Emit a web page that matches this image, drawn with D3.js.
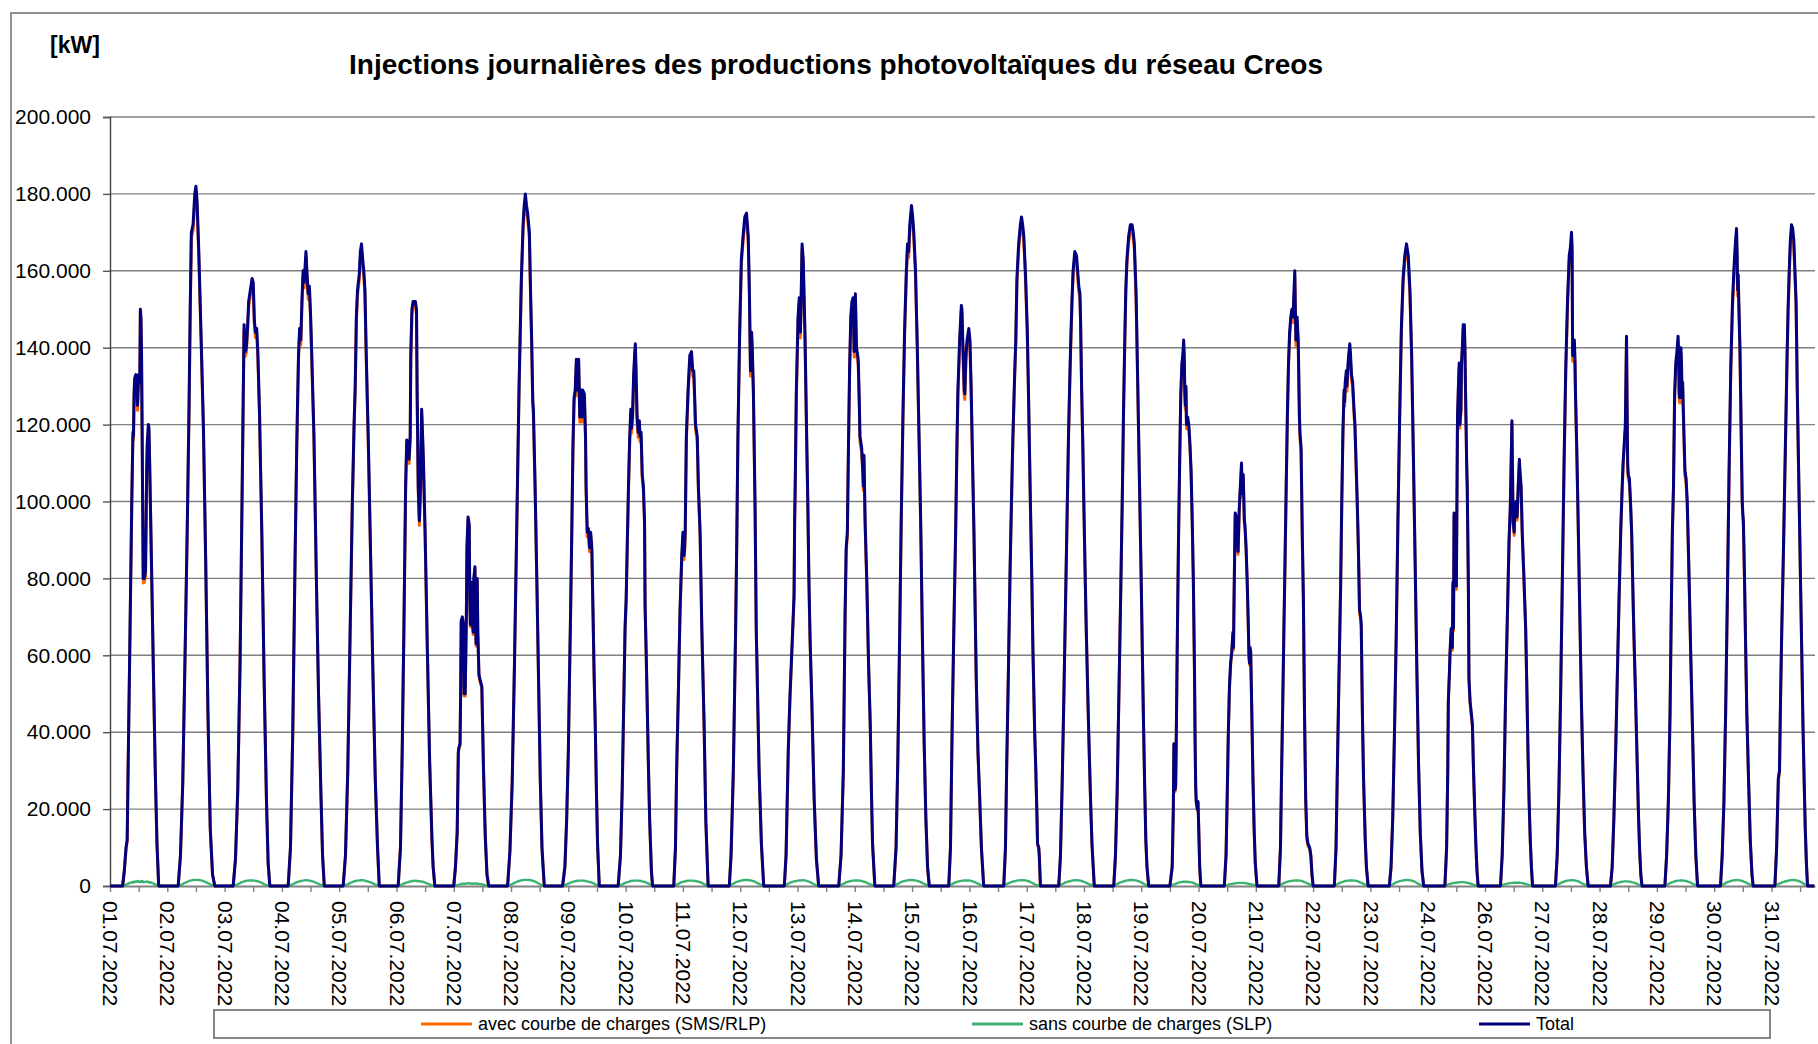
<!DOCTYPE html>
<html>
<head>
  <meta charset="utf-8">
  <title>Injections journalières PV Creos</title>
  <script src="https://cdn.jsdelivr.net/npm/d3@7/dist/d3.min.js"></script>
  <style type="text/css">
    body { margin: 0; background: #fff; }
    #chart { display: block; font-family: "Liberation Sans", Arial, sans-serif; }
  </style>
</head>
<body>
  <svg id="chart" width="1818" height="1044"></svg>
  <script type="text/javascript">
    // one array per day, rows: [quarter-hour of the day, Total (x1000 kW), SLP (x1000 kW)]
    // "avec courbe de charges" = Total - SLP
    const day01 = [[0,0,0],[22,0,0],[25,4,0.2],[28,10,0.3],[30,12,0.5],[32,35,0.6],[35,67,0.8],[38,100,1.0],[40,118,0.9],[41,117,1.1],[42,128,1.2],[43,132,1.0],[45,133,1.2],[47,128,1.1],[48,125,1.3],[50,133,1.2],[52,131,1.0],[53,150,1.2],[54,148,1.1],[55,139,1.3],[56,120,1.1],[57,100,1.0],[58,80,1.2],[60,80,1.0],[62,82,1.1],[64,108,1.2],[65,115,1.0],[67,120,1.1],[68,119,1.0],[69,112,0.9],[70,104,1.0],[73,79,0.8],[76,54,0.6],[79,30,0.4],[82,11,0.2],[85,0,0]];
    const day02 = [[23,0,0],[27,8,0.25],[31,27,0.5],[35,60,0.85],[39,95,1.1],[42,125,1.3],[44,150,1.4],[46,170,1.45],[49,172,1.55],[52,180,1.6],[54,182,1.6],[56,178,1.6],[59,165,1.55],[63,143,1.45],[67,120,1.25],[71,85,1.0],[75,45,0.75],[79,15,0.45],[83,3,0.2],[87,0,0]];
    const day03 = [[23,0,0],[27,7,0.2],[31,25,0.45],[35,58,0.75],[38,95,1.0],[40,120,1.1],[42,146,1.2],[44,139,1.3],[46,140,1.35],[48,145,1.4],[50,152,1.45],[53,155,1.45],[56,158,1.45],[58,157,1.45],[60,147,1.4],[62,144,1.35],[64,145,1.3],[66,139,1.2],[69,123,1.05],[73,92,0.8],[77,54,0.5],[81,23,0.25],[84,6,0.1],[87,0,0]];
    const day04 = [[23,0,0],[27,10,0.2],[31,40,0.45],[35,85,0.75],[38,115,1.0],[41,138,1.15],[43,145,1.2],[45,142,1.3],[47,152,1.35],[49,160,1.4],[51,157,1.45],[54,165,1.5],[56,159,1.5],[58,154,1.45],[60,156,1.4],[62,149,1.35],[64,139,1.25],[68,117,1.1],[72,82,0.85],[76,50,0.55],[80,25,0.3],[83,8,0.1],[86,0,0]];
    const day05 = [[23,0,0],[27,8,0.2],[31,30,0.45],[35,65,0.75],[39,100,1.0],[42,120,1.2],[44,130,1.3],[46,148,1.35],[48,155,1.4],[51,159,1.45],[53,165,1.5],[55,167,1.5],[57,163,1.5],[59,160,1.45],[61,155,1.4],[63,140,1.3],[67,115,1.15],[71,85,0.95],[75,55,0.7],[79,28,0.4],[83,10,0.15],[86,0,0]];
    const day06 = [[23,0,0],[27,10,0.2],[30,35,0.4],[33,67,0.6],[36,104,0.8],[38,116,0.9],[41,115,1.0],[42,111,1.1],[44,117,1.15],[45,138,1.2],[47,150,1.3],[49,152,1.3],[53,152,1.35],[55,150,1.35],[56,130,1.3],[58,104,1.2],[60,95,1.25],[62,104,1.2],[64,124,1.15],[65,120,1.1],[67,111,1.05],[70,92,0.9],[74,61,0.65],[78,32,0.4],[82,12,0.15],[84,5,0.05],[87,0,0]];
    const day07 = [[24,0,0],[27,5,0.1],[30,14,0.2],[32,35,0.3],[33,36,0.35],[35,37,0.4],[36,50,0.5],[37,69,0.55],[39,70,0.6],[41,68,0.6],[42,50,0.55],[44,50,0.6],[46,70,0.65],[47,88,0.7],[49,96,0.7],[51,94,0.7],[52,75,0.65],[53,68,0.6],[55,79,0.7],[56,70,0.65],[58,66,0.6],[59,80,0.65],[61,83,0.7],[62,72,0.65],[63,63,0.6],[65,80,0.65],[66,66,0.6],[68,55,0.55],[71,53,0.5],[73,52,0.45],[76,30,0.35],[79,13,0.2],[82,3,0.1],[85,0,0]];
    const day08 = [[22,0,0],[26,9,0.25],[30,27,0.5],[34,58,0.8],[38,94,1.1],[42,130,1.3],[46,158,1.45],[49,172,1.55],[51,177,1.6],[53,180,1.6],[55,177,1.6],[57,175,1.6],[60,170,1.55],[62,155,1.5],[64,142,1.45],[66,126,1.35],[67,124,1.3],[70,104,1.15],[73,80,0.9],[76,54,0.65],[79,28,0.4],[82,10,0.15],[86,0,0]];
    const day09 = [[22,0,0],[26,5,0.2],[29,17,0.4],[32,35,0.6],[34,54,0.75],[36,72,0.9],[38,92,1.0],[40,114,1.1],[42,127,1.2],[44,129,1.25],[46,137,1.3],[48,129,1.35],[49,135,1.35],[50,137,1.4],[52,122,1.4],[54,129,1.4],[56,122,1.4],[57,129,1.4],[60,128,1.35],[62,117,1.3],[63,104,1.3],[65,92,1.2],[67,93,1.15],[69,88,1.05],[71,92,1.0],[73,88,0.85],[75,72,0.75],[77,55,0.6],[79,42,0.45],[81,25,0.3],[83,11,0.15],[86,0,0]];
    const day10 = [[23,0,0],[27,8,0.2],[30,25,0.4],[33,50,0.65],[35,67,0.8],[37,75,0.9],[39,90,1.0],[41,104,1.1],[43,116,1.2],[45,124,1.3],[46,119,1.3],[48,122,1.35],[50,133,1.4],[52,139,1.4],[53,141,1.4],[54,135,1.4],[56,122,1.4],[58,118,1.4],[60,121,1.35],[61,117,1.35],[63,118,1.3],[65,107,1.2],[67,104,1.15],[69,95,1.05],[70,73,1.0],[72,60,0.85],[74,45,0.75],[76,30,0.6],[78,17,0.45],[81,4,0.2],[83,0,0]];
    const day11 = [[24,0,0],[27,10,0.2],[29,30,0.35],[32,50,0.55],[35,72,0.8],[38,86,1.0],[40,92,1.1],[41,88,1.1],[42,86,1.15],[43,88,1.2],[44,92,1.2],[46,117,1.3],[49,129,1.35],[52,138,1.4],[55,139,1.4],[57,134,1.4],[59,134,1.35],[61,125,1.3],[62,120,1.3],[65,117,1.2],[67,104,1.1],[70,92,1.0],[73,67,0.8],[77,42,0.5],[80,17,0.3],[84,0,0]];
    const day12 = [[25,0,0],[28,8,0.3],[32,30,0.6],[36,67,0.95],[38,90,1.05],[40,117,1.15],[43,144,1.3],[46,163,1.4],[49,169,1.5],[52,174,1.55],[55,175,1.55],[58,169,1.55],[60,155,1.5],[61,144,1.45],[62,134,1.45],[64,144,1.4],[65,140,1.35],[67,129,1.25],[70,98,1.05],[72,67,0.9],[75,45,0.7],[77,30,0.55],[81,11,0.25],[85,0,0]];
    const day13 = [[25,0,0],[28,8,0.3],[32,36,0.6],[35,50,0.85],[38,61,1.0],[41,72,1.15],[42,76,1.2],[43,95,1.2],[44,104,1.25],[46,129,1.3],[49,148,1.4],[51,153,1.45],[53,144,1.45],[54,150,1.45],[56,167,1.5],[58,163,1.5],[61,144,1.45],[64,117,1.35],[66,100,1.25],[68,79,1.1],[70,64,1.0],[73,48,0.75],[77,23,0.45],[81,7,0.2],[85,0,0]];
    const day14 = [[24,0,0],[28,8,0.3],[32,30,0.55],[35,70,0.8],[37,88,0.95],[39,92,1.05],[41,115,1.15],[43,135,1.25],[45,148,1.3],[47,152,1.35],[49,153,1.4],[51,139,1.45],[53,154,1.45],[55,140,1.45],[58,137,1.45],[60,125,1.4],[61,117,1.4],[64,114,1.3],[66,108,1.2],[67,104,1.15],[68,112,1.1],[70,95,1.05],[73,79,0.85],[76,58,0.6],[79,42,0.4],[81,25,0.3],[83,11,0.2],[87,0,0]];
    const day15 = [[24,0,0],[28,10,0.3],[31,32,0.55],[34,62,0.8],[37,95,1.05],[40,122,1.2],[43,145,1.3],[46,160,1.4],[48,167,1.45],[50,165,1.5],[52,172,1.55],[55,177,1.55],[57,174,1.55],[59,170,1.5],[62,160,1.45],[65,141,1.35],[68,118,1.2],[71,95,1.0],[74,65,0.8],[77,38,0.55],[80,18,0.35],[83,5,0.15],[86,0,0]];
    const day16 = [[24,0,0],[27,10,0.3],[30,42,0.5],[33,68,0.75],[36,92,0.95],[38,112,1.05],[40,129,1.15],[43,142,1.25],[46,151,1.35],[47,150,1.4],[49,139,1.4],[51,129,1.45],[52,128,1.45],[54,138,1.45],[56,142,1.45],[59,145,1.45],[61,142,1.4],[63,130,1.35],[65,115,1.25],[68,92,1.1],[72,54,0.8],[75,35,0.6],[78,23,0.4],[81,10,0.2],[85,0,0]];
    const day17 = [[24,0,0],[27,10,0.3],[29,30,0.5],[32,55,0.7],[35,82,0.9],[38,104,1.05],[40,117,1.15],[43,133,1.25],[45,142,1.3],[47,158,1.4],[50,167,1.45],[53,172,1.5],[55,174,1.5],[57,172,1.5],[59,169,1.5],[62,159,1.45],[65,145,1.35],[67,130,1.25],[70,104,1.05],[73,80,0.85],[75,61,0.7],[78,40,0.45],[80,30,0.35],[82,18,0.25],[83,11,0.2],[85,10,0.1],[86,8,0.05],[88,0,0]];
    const day18 = [[24,0,0],[27,8,0.3],[30,27,0.5],[33,50,0.7],[36,75,0.95],[39,100,1.1],[41,117,1.2],[43,130,1.25],[45,142,1.3],[47,152,1.4],[49,160,1.45],[52,165,1.5],[55,164,1.5],[57,160,1.5],[59,156,1.45],[61,154,1.4],[62,148,1.4],[64,129,1.3],[66,115,1.2],[68,98,1.1],[70,82,0.95],[72,67,0.85],[75,48,0.6],[77,36,0.5],[80,20,0.3],[82,11,0.2],[86,0,0]];
    const day19 = [[24,0,0],[27,8,0.3],[30,25,0.5],[33,50,0.75],[36,75,0.95],[39,102,1.1],[41,123,1.2],[43,140,1.3],[45,155,1.35],[47,163,1.45],[50,169,1.5],[53,172,1.55],[56,172,1.55],[58,170,1.55],[60,167,1.5],[63,154,1.45],[65,138,1.35],[68,113,1.2],[70,96,1.05],[72,79,0.95],[74,60,0.8],[76,42,0.6],[78,26,0.45],[80,12,0.3],[82,5,0.15],[85,0,0]];
    const day20 = [[26,0,0],[30,5,0.2],[32,20,0.35],[33,37,0.4],[34,33,0.45],[35,25,0.5],[36,26,0.55],[37,37,0.6],[39,65,0.75],[41,90,0.85],[43,110,0.95],[45,128,1.0],[47,136,1.05],[49,139,1.1],[50,142,1.1],[51,138,1.1],[52,129,1.1],[53,125,1.1],[54,130,1.1],[55,120,1.1],[57,122,1.05],[59,120,1.05],[61,115,1.0],[63,108,0.95],[65,95,0.9],[67,79,0.8],[69,55,0.7],[70,38,0.55],[71,26,0.5],[72,22,0.4],[74,20,0.35],[75,22,0.3],[76,17,0.25],[78,5,0.1],[80,0,0]];
    const day21 = [[25,0,0],[28,8,0.15],[30,23,0.25],[32,40,0.35],[34,52,0.45],[36,58,0.5],[38,61,0.55],[40,66,0.6],[41,62,0.6],[42,75,0.65],[44,97,0.7],[46,96,0.75],[48,90,0.75],[49,87,0.75],[51,98,0.8],[53,104,0.8],[55,110,0.8],[56,102,0.8],[58,107,0.8],[60,95,0.75],[61,94,0.75],[63,88,0.7],[65,79,0.65],[67,67,0.6],[68,60,0.55],[69,58,0.5],[70,62,0.5],[71,61,0.45],[73,45,0.4],[75,28,0.3],[77,15,0.2],[79,6,0.1],[82,0,0]];
    const day22 = [[24,0,0],[27,10,0.3],[29,30,0.45],[31,48,0.6],[33,67,0.75],[35,85,0.9],[37,104,1.0],[39,122,1.1],[41,136,1.2],[43,144,1.25],[45,148,1.3],[47,150,1.35],[49,148,1.4],[50,152,1.4],[52,160,1.45],[53,150,1.45],[54,142,1.45],[56,148,1.45],[58,142,1.45],[60,123,1.4],[61,118,1.4],[63,114,1.35],[65,92,1.25],[67,75,1.15],[69,45,1.0],[71,23,0.9],[73,13,0.75],[75,11,0.6],[78,10,0.4],[80,8,0.25],[82,3,0.1],[84,0,0]];
    const day23 = [[25,0,0],[28,10,0.3],[30,28,0.45],[32,45,0.6],[34,62,0.75],[36,78,0.9],[38,100,1.0],[40,118,1.1],[42,129,1.2],[43,126,1.25],[44,131,1.3],[46,134,1.35],[47,130,1.35],[49,136,1.4],[50,138,1.4],[52,141,1.45],[53,139,1.45],[55,133,1.45],[57,131,1.45],[59,125,1.4],[61,120,1.4],[63,110,1.35],[65,100,1.25],[67,88,1.15],[69,72,1.0],[71,70,0.9],[72,68,0.85],[74,45,0.7],[76,28,0.55],[79,12,0.35],[81,5,0.2],[84,0,0]];
    const day24 = [[25,0,0],[28,5,0.25],[31,18,0.45],[34,40,0.7],[37,65,0.95],[40,95,1.1],[43,122,1.25],[46,145,1.35],[49,158,1.45],[52,164,1.5],[55,167,1.55],[58,164,1.55],[61,155,1.5],[64,138,1.4],[67,112,1.25],[70,85,1.05],[73,57,0.8],[76,32,0.55],[79,14,0.3],[82,4,0.1],[85,0,0]];
    const day25 = [[26,0,0],[29,10,0.2],[31,30,0.35],[32,48,0.4],[34,56,0.5],[35,61,0.55],[37,67,0.65],[39,62,0.7],[40,79,0.75],[41,67,0.75],[42,97,0.8],[43,85,0.8],[44,79,0.85],[46,78,0.85],[47,100,0.9],[48,122,0.9],[50,132,0.95],[51,136,0.95],[52,120,0.95],[54,124,1.0],[55,136,1.0],[57,142,1.0],[58,146,1.0],[60,146,0.95],[61,140,0.95],[62,129,0.9],[64,110,0.9],[65,104,0.85],[67,78,0.8],[68,54,0.75],[70,48,0.65],[72,45,0.55],[74,42,0.45],[76,30,0.35],[78,20,0.25],[80,11,0.15],[82,4,0.05],[84,0,0]];
    const day26 = [[27,0,0],[30,8,0.2],[33,25,0.35],[36,50,0.5],[39,70,0.6],[42,90,0.7],[44,98,0.75],[45,105,0.75],[47,121,0.8],[48,108,0.8],[49,95,0.8],[51,92,0.85],[52,99,0.85],[54,100,0.85],[56,96,0.85],[58,104,0.85],[60,111,0.85],[61,108,0.8],[63,104,0.8],[65,92,0.75],[68,80,0.65],[71,67,0.55],[73,52,0.45],[75,35,0.35],[77,22,0.25],[79,12,0.15],[81,5,0.05],[83,0,0]];
    const day27 = [[27,0,0],[30,8,0.3],[33,25,0.5],[36,50,0.75],[39,80,1.0],[42,110,1.15],[45,135,1.3],[48,152,1.4],[51,164,1.45],[53,166,1.5],[54,168,1.5],[55,170,1.5],[56,166,1.5],[57,138,1.5],[58,142,1.5],[60,142,1.45],[61,137,1.45],[62,128,1.4],[64,115,1.35],[66,100,1.25],[69,75,1.05],[72,50,0.8],[75,30,0.55],[78,14,0.35],[81,5,0.15],[84,0,0]];
    const day28 = [[27,0,0],[30,5,0.2],[33,18,0.4],[36,35,0.6],[39,55,0.8],[42,75,0.95],[45,93,1.05],[47,102,1.1],[49,110,1.15],[51,115,1.2],[53,120,1.2],[55,143,1.2],[56,125,1.2],[57,110,1.2],[58,107,1.15],[60,106,1.15],[62,100,1.1],[64,92,1.0],[66,78,0.95],[68,65,0.85],[70,54,0.75],[72,42,0.6],[74,30,0.5],[76,18,0.35],[78,9,0.2],[80,3,0.1],[82,0,0]];
    const day29 = [[26,0,0],[29,8,0.3],[32,22,0.5],[35,45,0.75],[37,70,0.9],[39,92,1.0],[41,104,1.1],[43,128,1.2],[45,136,1.3],[47,139,1.35],[49,143,1.4],[50,138,1.4],[51,128,1.4],[52,127,1.4],[53,133,1.45],[54,140,1.45],[55,136,1.45],[56,127,1.45],[57,131,1.45],[59,119,1.4],[61,108,1.35],[63,106,1.3],[65,100,1.2],[67,88,1.1],[69,75,1.0],[71,61,0.85],[74,42,0.6],[77,22,0.4],[80,8,0.2],[83,0,0]];
    const day30 = [[27,0,0],[30,8,0.3],[33,22,0.5],[36,45,0.75],[39,75,1.0],[42,108,1.15],[45,135,1.3],[48,152,1.4],[51,162,1.5],[53,167,1.5],[55,171,1.55],[56,165,1.55],[57,155,1.55],[58,159,1.55],[59,152,1.5],[61,140,1.45],[63,120,1.4],[65,100,1.3],[66,97,1.25],[67,95,1.2],[69,80,1.1],[71,62,0.95],[73,45,0.8],[76,28,0.55],[79,12,0.3],[82,3,0.1],[84,0,0]];
    const day31 = [[26,0,0],[29,10,0.3],[32,28,0.5],[33,29,0.55],[34,30,0.6],[36,50,0.75],[38,67,0.9],[41,88,1.05],[43,104,1.15],[45,120,1.25],[47,136,1.3],[49,150,1.4],[51,160,1.45],[53,168,1.5],[55,172,1.55],[57,171,1.55],[59,168,1.55],[61,160,1.5],[63,152,1.45],[65,130,1.4],[67,112,1.3],[69,95,1.2],[71,77,1.05],[73,60,0.9],[75,42,0.7],[77,28,0.55],[79,15,0.35],[81,6,0.2],[83,0,0],[95,0,0]];

    const days = [day01, day02, day03, day04, day05, day06, day07, day08, day09, day10,
                  day11, day12, day13, day14, day15, day16, day17, day18, day19, day20,
                  day21, day22, day23, day24, day25, day26, day27, day28, day29, day30, day31];

    // category labels, one every 100 quarter-hours (that is why 25.07 is skipped)
    const xLabels = ["01.07.2022","02.07.2022","03.07.2022","04.07.2022","05.07.2022","06.07.2022",
                     "07.07.2022","08.07.2022","09.07.2022","10.07.2022","11.07.2022","12.07.2022",
                     "13.07.2022","14.07.2022","15.07.2022","16.07.2022","17.07.2022","18.07.2022",
                     "19.07.2022","20.07.2022","21.07.2022","22.07.2022","23.07.2022","24.07.2022",
                     "26.07.2022","27.07.2022","28.07.2022","29.07.2022","30.07.2022","31.07.2022"];
    const yTicks = [0, 20000, 40000, 60000, 80000, 100000, 120000, 140000, 160000, 180000, 200000];

    const seriesNames = ["avec courbe de charges (SMS/RLP)", "sans courbe de charges (SLP)", "Total"];
    const seriesColors = ["#ff6600", "#3cb371", "#000080"];

    const perDay = 96;
    const nPoints = days.length * perDay;

    // flatten into one row per vertex
    const points = [];
    days.forEach((rows, i) => {
      rows.forEach(r => {
        points.push({
          t: i * perDay + r[0],
          total: r[1] * 1000,
          slp: r[2] * 1000,
          sms: (r[1] - r[2]) * 1000
        });
      });
    });

    const plotLeft = 110, plotRight = 1815, plotTop = 117, plotBottom = 886;

    const x = d3.scaleLinear().domain([0, nPoints]).range([plotLeft, plotRight]);
    const y = d3.scaleLinear().domain([0, 200000]).range([plotBottom, plotTop]);

    const svg = d3.select("#chart");

    // outer frame of the chart object
    svg.append("rect")
      .attr("x", 11).attr("y", 13)
      .attr("width", 1900).attr("height", 1100)
      .attr("fill", "none")
      .attr("stroke", "#6e6e6e")
      .attr("stroke-width", 1.5);

    svg.append("text")
      .attr("x", 50).attr("y", 53)
      .style("font-size", "23px")
      .style("font-weight", "bold")
      .text("[kW]");

    svg.append("text")
      .attr("x", 836).attr("y", 74)
      .attr("text-anchor", "middle")
      .style("font-size", "28px")
      .style("font-weight", "bold")
      .text("Injections journalières des productions photovoltaïques du réseau Creos");

    // gridlines
    svg.append("g")
      .selectAll("line")
      .data(yTicks.slice(1))
      .join("line")
        .attr("x1", plotLeft).attr("x2", plotRight)
        .attr("y1", d => y(d)).attr("y2", d => y(d))
        .attr("stroke", "#808080")
        .attr("stroke-width", 1.4);

    // y axis
    const yAxis = svg.append("g")
      .attr("transform", `translate(${plotLeft},0)`)
      .call(d3.axisLeft(y)
        .tickValues(yTicks)
        .tickSize(7)
        .tickPadding(12)
        .tickFormat(d => d3.format(",")(d).replace(/,/g, ".")));
    yAxis.select(".domain").attr("stroke", "#404040").attr("stroke-width", 1.4);
    yAxis.selectAll(".tick line").attr("stroke", "#555").attr("stroke-width", 1.4);
    yAxis.selectAll(".tick text")
      .attr("fill", "#000")
      .style("font-size", "21px")
      .style("font-family", "'Liberation Sans', Arial, sans-serif");

    // x axis
    const xAxis = svg.append("g")
      .attr("transform", `translate(0,${plotBottom})`)
      .call(d3.axisBottom(x)
        .tickValues(d3.range(0, nPoints, 50))
        .tickSize(6)
        .tickSizeOuter(0)
        .tickFormat(d => d % 100 === 0 ? xLabels[d / 100] : ""));
    xAxis.select(".domain").attr("stroke", "#808080").attr("stroke-width", 2);
    xAxis.selectAll(".tick line").attr("stroke", "#808080").attr("stroke-width", 1.4);
    xAxis.selectAll(".tick text")
      .attr("fill", "#000")
      .attr("transform", "rotate(90)")
      .attr("text-anchor", "start")
      .attr("x", 15)
      .attr("y", 0)
      .attr("dy", "0.35em")
      .style("font-size", "21px")
      .style("font-family", "'Liberation Sans', Arial, sans-serif");

    // series lines, drawn in Excel order (Total on top)
    const keys = ["sms", "slp", "total"];
    const widths = [3, 2.4, 3];
    keys.forEach((k, i) => {
      svg.append("path")
        .datum(points)
        .attr("fill", "none")
        .attr("stroke", seriesColors[i])
        .attr("stroke-width", widths[i])
        .attr("stroke-linejoin", "round")
        .attr("d", d3.line().x(d => x(d.t)).y(d => y(d[k])));
    });

    // legend
    const legend = svg.append("g");
    legend.append("rect")
      .attr("x", 214).attr("y", 1010)
      .attr("width", 1556).attr("height", 28)
      .attr("fill", "#fff")
      .attr("stroke", "#7a7a7a")
      .attr("stroke-width", 1.8);
    const legendX = [421, 972, 1479];
    seriesNames.forEach((name, i) => {
      legend.append("line")
        .attr("x1", legendX[i]).attr("x2", legendX[i] + 51)
        .attr("y1", 1024).attr("y2", 1024)
        .attr("stroke", seriesColors[i])
        .attr("stroke-width", 3);
      legend.append("text")
        .attr("x", legendX[i] + 57).attr("y", 1030)
        .style("font-size", "18px")
        .text(name);
    });
  </script>
</body>
</html>
